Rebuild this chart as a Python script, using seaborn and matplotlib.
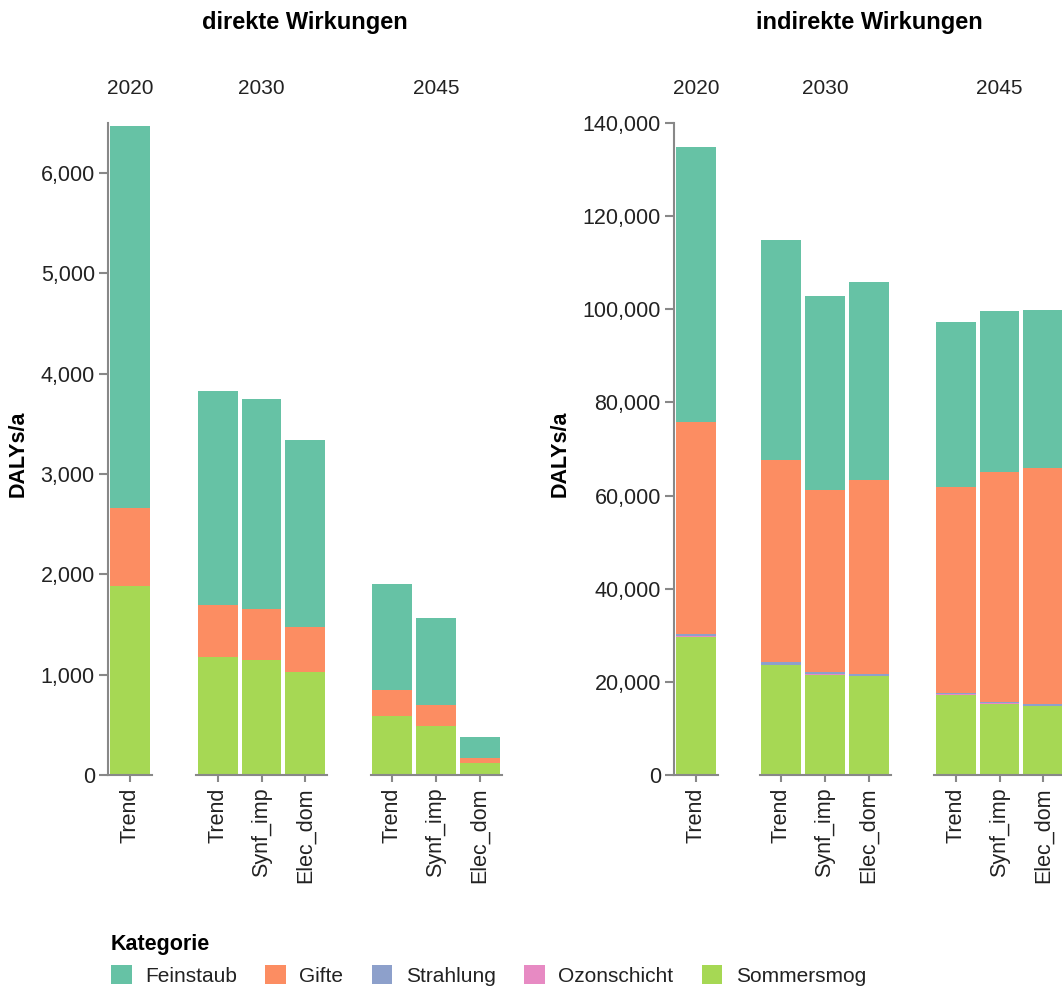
import pandas as pd
import matplotlib.pyplot as plt
import seaborn as sns
from matplotlib.patches import Patch
from matplotlib.ticker import FuncFormatter

# Facets: year + scenario per bar
jahre = ["2020", "2030", "2030", "2030", "2045", "2045", "2045"]
szenarien = ["Trend", "Trend", "Synf_imp", "Elec_dom", "Trend", "Synf_imp", "Elec_dom"]
kategorien = ["Feinstaub", "Gifte", "Strahlung", "Ozonschicht", "Sommersmog"]

# direkte Wirkungen (DALYs/a)
direkt_feinstaub = [3809, 2133, 2097, 1867, 1054, 864, 207]
direkt_gifte = [777, 518, 508, 448, 259, 210, 53]
direkt_strahlung = [1, 1, 1, 1, 1, 1, 0.5]
direkt_ozonschicht = [0.5, 0.5, 0.5, 0.5, 0.3, 0.3, 0.2]
direkt_sommersmog = [1884, 1176, 1143, 1024, 591, 488, 116]

# indirekte Wirkungen (DALYs/a)
indirekt_feinstaub = [58990, 47230, 41650, 42510, 35430, 34570, 33930]
indirekt_gifte = [45500, 43460, 39180, 41630, 44190, 49320, 50680]
indirekt_strahlung = [500, 450, 400, 400, 350, 350, 350]
indirekt_ozonschicht = [150, 120, 110, 110, 90, 80, 80]
indirekt_sommersmog = [29700, 23600, 21500, 21200, 17200, 15300, 14800]


def to_long(werte):
    rows = []
    for kat, vals in zip(kategorien, werte):
        for j, s, v in zip(jahre, szenarien, vals):
            rows.append({"Jahr": j, "Szenario": s, "Kategorie": kat, "Wert": v})
    return pd.DataFrame(rows)


df_direkt = to_long([direkt_feinstaub, direkt_gifte, direkt_strahlung,
                     direkt_ozonschicht, direkt_sommersmog])
df_indirekt = to_long([indirekt_feinstaub, indirekt_gifte, indirekt_strahlung,
                       indirekt_ozonschicht, indirekt_sommersmog])

sns.set_theme(style="white")
plt.rcParams["font.family"] = ["Liberation Sans", "DejaVu Sans"]

colors = dict(zip(kategorien, sns.color_palette("Set2", 5)))
gray = "#888888"
txt = "#222222"

W, H = 1062, 988
fig = plt.figure(figsize=(W / 100, H / 100), dpi=100)

y_bottom = 775
y_top = 123
band = 43.7
scen_order = ["Trend", "Synf_imp", "Elec_dom"]


def draw_panel(df, x_starts, ymax, ystep, title, title_x, ylabel_x):
    for i, (jahr, x0) in enumerate(zip(["2020", "2030", "2045"], x_starts)):
        sub = df[df.Jahr == jahr].pivot(index="Szenario", columns="Kategorie", values="Wert")
        order = [s for s in scen_order if s in sub.index]
        cum = sub.loc[order, kategorien[::-1]].cumsum(axis=1).reset_index()
        n = len(order)
        ax = fig.add_axes([x0 / W, (H - y_bottom) / H, n * band / W, (y_bottom - y_top) / H])
        # draw from top of stack downwards, so each segment shows its own colour
        for kat in kategorien:
            sns.barplot(data=cum, x="Szenario", y=kat, order=order, color=colors[kat],
                        saturation=1, width=0.91, linewidth=0, edgecolor="none", ax=ax)
        ax.set_xlim(-0.5, n - 0.5)
        ax.set_ylim(0, ymax)
        ax.set_xlabel("")
        ax.set_ylabel("")
        for side in ["top", "right"]:
            ax.spines[side].set_visible(False)
        ax.spines["bottom"].set_color(gray)
        ax.spines["bottom"].set_linewidth(1.5)
        ax.tick_params(axis="x", rotation=90, length=5, width=1.5, color=gray,
                       labelsize=15.5, labelcolor=txt, pad=4, bottom=True)
        if i == 0:
            ax.spines["left"].set_color(gray)
            ax.spines["left"].set_linewidth(1.5)
            ax.set_yticks(range(0, ymax + 1, ystep))
            ax.yaxis.set_major_formatter(FuncFormatter(lambda v, p: f"{v:,.0f}"))
            ax.tick_params(axis="y", length=6.5, width=1.5, color=gray, labelsize=15.5,
                           labelcolor=txt, pad=3, left=True)
        else:
            ax.spines["left"].set_visible(False)
            ax.set_yticks([])
        fig.text((x0 + n * band / 2) / W, 1 - 88 / H, jahr, ha="center", va="center",
                 fontsize=15, color=txt)
    fig.text(title_x / W, 1 - 22 / H, title, ha="center", va="center",
             fontsize=17, fontweight="bold", color="black")
    fig.text(ylabel_x / W, 1 - 454 / H, "DALYs/a", ha="center", va="center",
             rotation=90, fontsize=15.5, fontweight="bold", color="black")


draw_panel(df_direkt, [108, 196, 370.5], 6500, 1000, "direkte Wirkungen", 305, 18)
draw_panel(df_indirekt, [674, 759.5, 934], 140000, 20000, "indirekte Wirkungen", 869, 560)

handles = [Patch(facecolor=colors[k], edgecolor="none", label=k) for k in kategorien]
leg = fig.legend(handles=handles, loc="upper left", bbox_to_anchor=(92 / W, 1 - 915 / H),
                 ncol=5, frameon=False, title="Kategorie", alignment="left",
                 title_fontproperties={"weight": "bold", "size": 15.5}, fontsize=15,
                 handlelength=1.0, handleheight=1.05, handletextpad=0.65, columnspacing=1.35)
leg.get_title().set_color("black")
for t in leg.get_texts():
    t.set_color(txt)

fig.savefig("out.png", dpi=100)
